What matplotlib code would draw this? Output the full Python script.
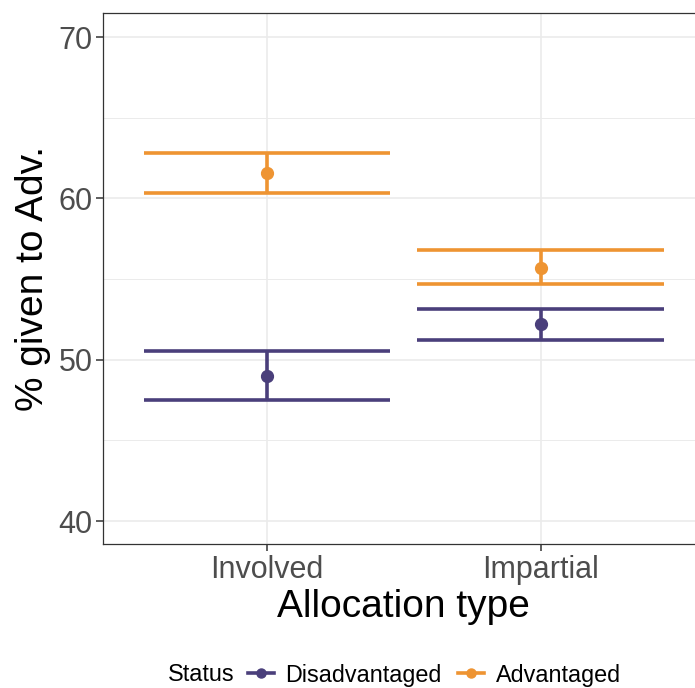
import numpy as np
import matplotlib.pyplot as plt
from matplotlib.lines import Line2D

plt.rcParams['font.family'] = ['Liberation Sans', 'DejaVu Sans']

# data
alloc_types = ['Involved', 'Impartial']
statuses = ['Disadvantaged', 'Advantaged']
colors = ['#4A3F7B', '#EE9432']

means = {
    'Disadvantaged': [48.98, 52.21],
    'Advantaged': [61.57, 55.68],
}
lower = {
    'Disadvantaged': [47.48, 51.22],
    'Advantaged': [60.33, 54.69],
}
upper = {
    'Disadvantaged': [50.53, 53.15],
    'Advantaged': [62.80, 56.80],
}

fig = plt.figure(figsize=(6.95, 6.88), dpi=100)
ax = fig.add_axes([0.148, 0.209, 0.866, 0.772])

x = np.arange(1, len(alloc_types) + 1)

# theme_bw-ish grid
ax.set_axisbelow(True)
ax.set_yticks([45, 55, 65], minor=True)
ax.grid(which='major', color='#EBEBEB', linewidth=1.2)
ax.grid(which='minor', axis='y', color='#EBEBEB', linewidth=0.7)
ax.tick_params(which='minor', length=0)

lw = 2.6
for s, c in zip(statuses, colors):
    m = np.array(means[s])
    lo = np.array(lower[s])
    hi = np.array(upper[s])
    ax.errorbar(x, m, yerr=[m - lo, hi - m], fmt='o', color=c, ms=8.5,
                elinewidth=lw, capsize=0, zorder=3)
    ax.hlines(lo, x - 0.45, x + 0.45, color=c, linewidth=lw, zorder=3)
    ax.hlines(hi, x - 0.45, x + 0.45, color=c, linewidth=lw, zorder=3)

ax.set_xlim(0.4, 2.6)
ax.set_ylim(38.57, 71.49)
ax.set_xticks(x)
ax.set_xticklabels(alloc_types)
ax.set_yticks([40, 50, 60, 70])
ax.tick_params(which='major', labelsize=22, labelcolor='#4D4D4D',
               color='#333333', length=5, width=1.1, pad=2.5)
for sp in ax.spines.values():
    sp.set_color('#333333')
    sp.set_linewidth(0.9)

ax.set_xlabel('Allocation type', fontsize=28, labelpad=3)
ax.set_ylabel('% given to Adv.', fontsize=28, labelpad=5)

# legend at the bottom (kept just inside the lower edge)
fig.text(0.242, 0.0095, 'Status', fontsize=16.8, va='baseline', ha='left')
handles = [Line2D([0], [0], color=c, lw=lw, marker='o', ms=6.5) for c in colors]
fig.legend(handles, statuses, ncol=2, loc='lower left',
           bbox_to_anchor=(0.357, 0.002), frameon=False, fontsize=16.8,
           handlelength=1.1, handletextpad=0.5, columnspacing=0.7,
           borderpad=0, borderaxespad=0)

fig.savefig('out.png', dpi=100)
